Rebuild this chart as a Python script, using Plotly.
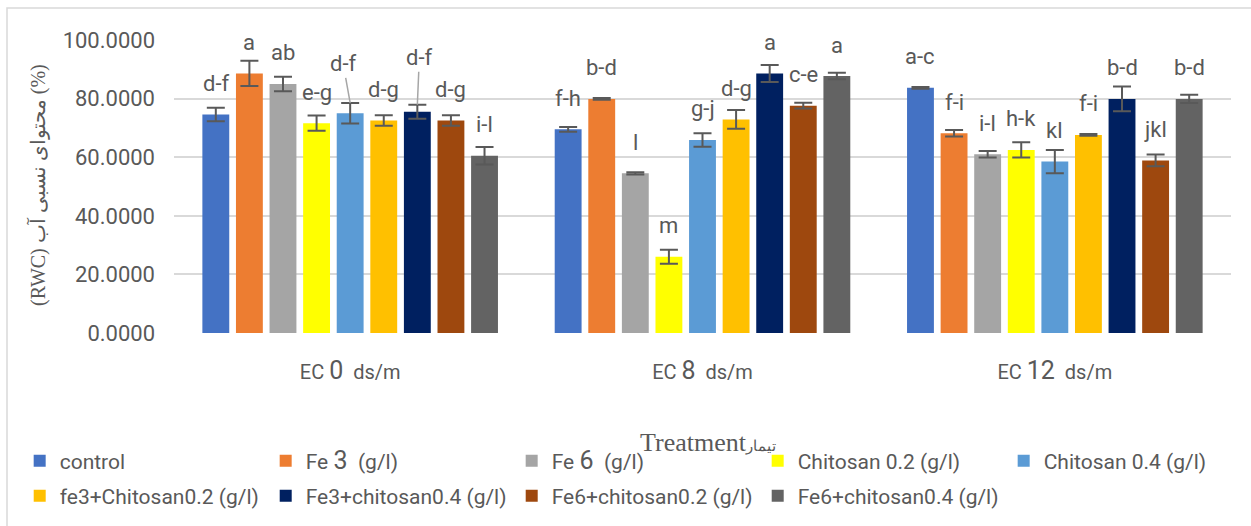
import plotly.graph_objects as go

# ---------------- data ----------------
groups = ["EC 0  ds/m", "EC 8  ds/m", "EC 12  ds/m"]
group_ticks = [
    "EC <span style='font-size:25px'>0</span>\u00a0\u00a0ds/m",
    "EC <span style='font-size:25px'>8</span>\u00a0\u00a0ds/m",
    "EC <span style='font-size:25px'>12</span>\u00a0\u00a0ds/m",
]

series_names = [
    "control",
    "Fe <span style='font-size:25px'>3</span>\u00a0\u00a0(g/l)",
    "Fe <span style='font-size:25px'>6</span>\u00a0\u00a0(g/l)",
    "Chitosan 0.2 (g/l)",
    "Chitosan 0.4 (g/l)",
    "fe3+Chitosan0.2 (g/l)",
    "Fe3+chitosan0.4 (g/l)",
    "Fe6+chitosan0.2 (g/l)",
    "Fe6+chitosan0.4 (g/l)",
]

control = [74.6, 69.5, 83.7]
fe3 = [88.6, 79.9, 68.2]
fe6 = [85.0, 54.5, 61.0]
chit02 = [71.6, 26.0, 62.5]
chit04 = [75.0, 65.9, 58.5]
fe3_chit02 = [72.5, 72.9, 67.6]
fe3_chit04 = [75.5, 88.6, 79.9]
fe6_chit02 = [72.5, 77.6, 58.9]
fe6_chit04 = [60.5, 87.7, 79.9]

control_err = [2.3, 0.8, 0.3]
fe3_err = [4.3, 0.3, 1.1]
fe6_err = [2.5, 0.4, 1.1]
chit02_err = [2.6, 2.4, 2.6]
chit04_err = [3.5, 2.3, 4.0]
fe3_chit02_err = [1.8, 3.2, 0.3]
fe3_chit04_err = [2.4, 2.9, 4.2]
fe6_chit02_err = [1.8, 1.0, 2.0]
fe6_chit04_err = [3.0, 1.1, 1.4]

control_lbl = ["d-f", "f-h", "a-c"]
fe3_lbl = ["a", "b-d", "f-i"]
fe6_lbl = ["ab", "l", "i-l"]
chit02_lbl = ["e-g", "m", "h-k"]
chit04_lbl = ["d-f", "g-j", "kl"]
fe3_chit02_lbl = ["d-g", "d-g", "f-i"]
fe3_chit04_lbl = ["d-f", "a", "b-d"]
fe6_chit02_lbl = ["d-g", "c-e", "jkl"]
fe6_chit04_lbl = ["i-l", "a", "b-d"]

values = [control, fe3, fe6, chit02, chit04, fe3_chit02, fe3_chit04, fe6_chit02, fe6_chit04]
errors = [control_err, fe3_err, fe6_err, chit02_err, chit04_err,
          fe3_chit02_err, fe3_chit04_err, fe6_chit02_err, fe6_chit04_err]
labels = [control_lbl, fe3_lbl, fe6_lbl, chit02_lbl, chit04_lbl,
          fe3_chit02_lbl, fe3_chit04_lbl, fe6_chit02_lbl, fe6_chit04_lbl]

colors = ["#4472C4", "#ED7D31", "#A5A5A5", "#FFFF00", "#5B9BD5",
          "#FFC000", "#002060", "#9E480E", "#636363"]

# labels that use a leader line in the original: (series, group) -> (ax, ay)
leader = {(4, 0): (-7, -39), (6, 0): (2, -47)}

TXT = "#595959"
FONT = "Roboto"
BARGAP = 0.142
GROUPGAP = 0.2

fig = go.Figure()
n = len(values)
for i in range(n):
    fig.add_trace(go.Bar(
        x=groups, y=values[i], name=series_names[i],
        marker=dict(color=colors[i], line=dict(width=0)),
        error_y=dict(type="data", array=errors[i], visible=True,
                     color="#595959", thickness=2, width=9),
        legend="legend" if i < 5 else "legend2",
    ))

# significance letters
slot = (1 - BARGAP) / n
annotations = []
for i in range(n):
    for g in range(len(groups)):
        xpos = g + (i - (n - 1) / 2) * slot
        if (i, g) in leader:
            ax, ay = leader[(i, g)]
            annotations.append(dict(
                x=xpos, y=values[i][g] + errors[i][g], xref="x", yref="y",
                text=labels[i][g], showarrow=True, arrowhead=0, arrowwidth=1.5,
                arrowcolor="#A6A6A6", ax=ax, ay=ay, standoff=0,
                font=dict(family=FONT, size=22, color=TXT)))
        else:
            annotations.append(dict(
                x=xpos, y=values[i][g], xref="x", yref="y",
                text=labels[i][g], showarrow=False, yanchor="middle",
                yshift=31, font=dict(family=FONT, size=22, color=TXT)))

# axis titles
annotations.append(dict(
    x=-0.1287, y=0.505, xref="paper", yref="paper", textangle=-90,
    xanchor="center", yanchor="middle",
    text="(RWC) محتوای نسبی آب (%)", showarrow=False,
    font=dict(family="Liberation Serif", size=20, color=TXT)))
annotations.append(dict(
    x=0.505, y=-0.375, xref="paper", yref="paper",
    xanchor="center", yanchor="middle",
    text="Treatment<span style='font-size:15px'>تیمار</span>", showarrow=False,
    font=dict(family="Liberation Serif", size=26, color=TXT)))

fig.update_layout(
    width=1251, height=526,
    margin=dict(l=174, r=20, t=40, b=193),
    paper_bgcolor="white", plot_bgcolor="white",
    barmode="group", bargap=BARGAP, bargroupgap=GROUPGAP,
    font=dict(family=FONT, size=22, color=TXT),
    xaxis=dict(tickvals=groups, ticktext=group_ticks, showgrid=False,
               showline=False, zeroline=False, ticks="", automargin=False,
               ticklabelstandoff=25, tickfont=dict(family=FONT, size=20, color=TXT)),
    yaxis=dict(range=[0, 100], dtick=20, tickformat=".4f", showgrid=True,
               gridcolor="#D9D9D9", gridwidth=1.5, zeroline=False, automargin=False,
               showline=False, ticks="", ticklabelstandoff=18,
               tickfont=dict(family=FONT, size=22, color=TXT)),
    legend=dict(orientation="h", x=-0.146, xanchor="left", y=-0.367, yanchor="top",
                entrywidth=201, font=dict(family=FONT, size=21, color=TXT),
                bgcolor="rgba(0,0,0,0)"),
    legend2=dict(orientation="h", x=0.01575, xref="container", xanchor="left",
                 y=0.0958, yref="container", yanchor="top",
                 entrywidth=201, font=dict(family=FONT, size=21, color=TXT),
                 bgcolor="rgba(0,0,0,0)"),
    annotations=annotations,
    shapes=[dict(type="rect", xref="paper", yref="paper",
                 x0=-0.158, x1=1.05, y0=-0.75, y1=1.109,
                 line=dict(color="#D9D9D9", width=1.5), layer="below")],
    showlegend=True,
)

fig.write_html("out.html", config={"displayModeBar": False},
               post_script="document.body.style.margin='0px';")
